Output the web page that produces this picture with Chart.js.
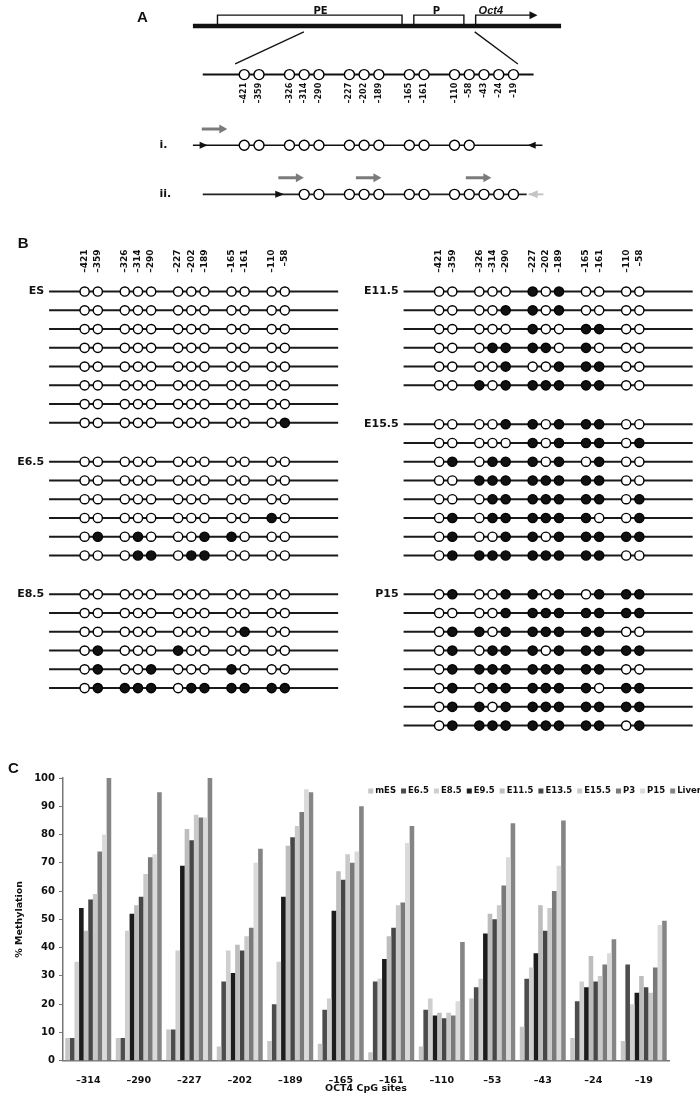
<!DOCTYPE html>
<html>
<head>
<meta charset="utf-8">
<title>Oct4 methylation</title>
<script src="https://cdn.jsdelivr.net/npm/chart.js@4.4.1/dist/chart.umd.min.js"></script>
<style>
html,body{margin:0;padding:0;background:#fff}
#fig{position:relative;width:700px;height:1099px;overflow:hidden;background:#fff}
#fig canvas{position:absolute;left:0}
</style>
</head>
<body>
<div id="fig">
<canvas id="panelA" width="700" height="225" style="top:0"></canvas>
<canvas id="panelB" width="700" height="520" style="top:225px"></canvas>
<canvas id="panelC" width="700" height="354" style="top:745px"></canvas>
</div>
<script>
// ---- panel A: Oct4 upstream region ----
const cpgSites=[-421,-359,-326,-314,-290,-227,-202,-189,-165,-161,-110,-58,-43,-24,-19]
const cpgCluster=[0,0,1,1,1,2,2,2,3,3,4,4,4,4,4]
const ampliconI=[-421,-359,-326,-314,-290,-227,-202,-189,-165,-161,-110,-58]
const ampliconII=[-314,-290,-227,-202,-189,-165,-161,-110,-58,-43,-24,-19]

// ---- panel B: bisulfite clones (1 = methylated CpG) ----
const cloneSites=[-421,-359,-326,-314,-290,-227,-202,-189,-165,-161,-110,-58]
const cloneCluster=[0,0,1,1,1,2,2,2,3,3,4,4]
const clonesES=["000000000000","000000000000","000000000000","000000000000","000000000000","000000000000","000000000000","000000000001"]
const clonesE65=["000000000000","000000000000","000000000000","000000000010","010100011000","000110110000"]
const clonesE85=["000000000000","000000000000","000000000100","010001000000","010010001000","011110111111"]
const clonesE115=["000001010000","000011010000","000001001100","000111101000","000010011100","001011111100"]
const clonesE155=["000011011100","000001011101","010111010100","001111111100","000111111101","010111111001","010011011111","011111111100"]
const clonesP15=["010011010111","000011111111","011011111100","010111011111","011111111100","010111111011","011011111111","011111111101"]

// ---- panel C: % methylation at each CpG ----
const cpgLabels=["–314","–290","–227","–202","–189","–165","–161","–110","–53","–43","–24","–19"]
const stages=["mES","E6.5","E8.5","E9.5","E11.5","E13.5","E15.5","P3","P15","Liver"]
const valsMES=[8,8,11,5,7,6,3,5,22,12,8,7]
const valsE65=[8,8,11,28,20,18,28,18,26,29,21,34]
const valsE85=[35,46,39,39,35,22,29,22,29,33,28,20]
const valsE95=[54,52,69,31,58,53,36,16,45,38,26,24]
const valsE115=[46,55,82,41,76,67,44,17,52,55,37,30]
const valsE135=[57,58,78,39,79,64,47,15,50,46,28,26]
const valsE155=[59,66,87,44,83,73,55,17,55,54,30,24]
const valsP3=[74,72,86,47,88,70,56,16,62,60,34,33]
const valsP15=[80,73,86,70,96,74,77,21,72,69,38,48]
const valsLiver=[100,95,100,75,95,90,83,42,84,85,43,49.5]
const stageColors=["#c6c6c6","#4d4d4d","#cfcfcf","#1c1c1c","#bdbdbd","#474747","#c9c9c9","#7a7a7a","#dadada","#858585"]

Chart.defaults.font.family="DejaVu Sans"

const bold=(s)=>"bold "+s+"px 'DejaVu Sans'"
const boldArial=(s)=>"bold "+s+"px 'Liberation Sans'"

function seg(ctx,x1,y1,x2,y2,w,c){
ctx.beginPath()
ctx.moveTo(x1,y1)
ctx.lineTo(x2,y2)
ctx.lineWidth=w
ctx.strokeStyle=c
ctx.stroke()
}

function poly(ctx,pts,w,c){
ctx.beginPath()
pts.forEach((p,i)=>i?ctx.lineTo(p[0],p[1]):ctx.moveTo(p[0],p[1]))
ctx.lineWidth=w
ctx.strokeStyle=c
ctx.stroke()
}

// arrow head, tip at x,y; dir 1 = points right
function head(ctx,x,y,dir,len,half,c){
ctx.beginPath()
ctx.moveTo(x,y)
ctx.lineTo(x-dir*len,y-half)
ctx.lineTo(x-dir*len,y+half)
ctx.closePath()
ctx.fillStyle=c
ctx.fill()
}

function vtext(ctx,t,x,y){
ctx.save()
ctx.translate(x,y)
ctx.rotate(-Math.PI/2)
ctx.fillText(t,0,0)
ctx.restore()
}

const pxScales=(w,h)=>({
x:{type:"linear",min:0,max:w,display:false},
y:{type:"linear",min:0,max:h,reverse:true,display:false}
})

// ================= panel A =================
const A={slot0:242.3,slotW:15,gap:1.07,geneY:20.7,boxTop:9.3,cpgY:72.3,iY:147.3,iiY:199.3,primerIY:130,primerIIY:181.7,labelTop:81}
const aX=i=>A.slot0+A.slotW*(i+A.gap*cpgCluster[i])

const aCircles=[]
cpgSites.forEach((s,i)=>aCircles.push({x:aX(i),y:A.cpgY}))
ampliconI.forEach(s=>aCircles.push({x:aX(cpgSites.indexOf(s)),y:A.iY}))
ampliconII.forEach(s=>aCircles.push({x:aX(cpgSites.indexOf(s)),y:A.iiY}))

const panelAPlugin={
id:"panelADraw",
beforeDatasetsDraw(chart){
const {ctx,scales:{x,y}}=chart
const X=v=>x.getPixelForValue(v), Y=v=>y.getPixelForValue(v)
const k="#111"
ctx.save()
// gene line with PE, P and Oct4
seg(ctx,X(190),Y(A.geneY),X(565),Y(A.geneY),4.5,k)
poly(ctx,[[X(215),Y(A.geneY)],[X(215),Y(A.boxTop)],[X(403),Y(A.boxTop)],[X(403),Y(A.geneY)]],1.4,k)
poly(ctx,[[X(415),Y(A.geneY)],[X(415),Y(A.boxTop)],[X(466),Y(A.boxTop)],[X(466),Y(A.geneY)]],1.4,k)
poly(ctx,[[X(478),Y(A.geneY)],[X(478),Y(A.boxTop)],[X(534),Y(A.boxTop)]],1.4,k)
head(ctx,X(541),Y(A.boxTop),1,8,4,k)
// zoom lines
seg(ctx,X(303),Y(27),X(233),Y(61),1.3,k)
seg(ctx,X(477),Y(27),X(521),Y(61),1.3,k)
// CpG line
seg(ctx,X(200),Y(A.cpgY),X(537),Y(A.cpgY),2,k)
// amplicon i
seg(ctx,X(190),Y(A.iY),X(546),Y(A.iY),1.6,k)
head(ctx,X(205),Y(A.iY),1,8,3.5,k)
head(ctx,X(531),Y(A.iY),-1,8,3.5,k)
seg(ctx,X(199),Y(A.primerIY),X(218),Y(A.primerIY),3,"#7b7b7b")
head(ctx,X(225),Y(A.primerIY),1,8,4.5,"#7b7b7b")
// amplicon ii
seg(ctx,X(200),Y(A.iiY),X(530),Y(A.iiY),1.6,"#222")
head(ctx,X(283),Y(A.iiY),1,9,3.5,k)
seg(ctx,X(532),Y(A.iiY),X(547),Y(A.iiY),2,"#c4c4c4")
head(ctx,X(532),Y(A.iiY),-1,9,4,"#c4c4c4")
;[277,356,468].forEach(s=>{
seg(ctx,X(s),Y(A.primerIIY),X(s+19),Y(A.primerIIY),3,"#7b7b7b")
head(ctx,X(s+26),Y(A.primerIIY),1,8,4.5,"#7b7b7b")
})
ctx.restore()
},
afterDatasetsDraw(chart){
const {ctx,scales:{x,y}}=chart
const X=v=>x.getPixelForValue(v), Y=v=>y.getPixelForValue(v)
ctx.save()
ctx.fillStyle="#111"
ctx.textBaseline="alphabetic"
ctx.textAlign="left"
ctx.font=boldArial(15)
ctx.fillText("A",X(133),Y(17))
ctx.textAlign="center"
ctx.font=bold(10)
ctx.fillText("PE",X(320),Y(8.5))
ctx.fillText("P",X(438),Y(8.5))
ctx.textAlign="left"
ctx.font="italic bold 11px 'Liberation Sans'"
ctx.fillText("Oct4",X(481),Y(8))
// site labels
ctx.font=bold(8)
ctx.textAlign="right"
ctx.textBaseline="middle"
cpgSites.forEach((s,i)=>vtext(ctx,"–"+Math.abs(s),X(aX(i)),Y(A.labelTop)))
ctx.textAlign="left"
ctx.font=bold(11)
ctx.fillText("i.",X(156),Y(A.iY))
ctx.fillText("ii.",X(156),Y(A.iiY))
ctx.restore()
}
}

new Chart(document.getElementById("panelA"),{
type:"scatter",
data:{datasets:[{
data:aCircles,
pointRadius:5,
pointBackgroundColor:"#fff",
pointBorderColor:"#000",
pointBorderWidth:1.4
}]},
options:{
responsive:false,
animation:false,
events:[],
layout:{padding:0},
plugins:{legend:{display:false},tooltip:{enabled:false}},
scales:pxScales(700,225)
},
plugins:[panelAPlugin]
})

// ================= panel B =================
const B={top:225,cols:[80,440.7],slotW:13.4,gap:1.05,rowY0:287,rowPitch:19.2,blockGap:1.07,lineFrom:-2.7,lineTo:19.25,labelTop:244}
const cloneSets=[
{label:"ES",col:0,clones:clonesES},
{label:"E6.5",col:0,clones:clonesE65},
{label:"E8.5",col:0,clones:clonesE85},
{label:"E11.5",col:1,clones:clonesE115},
{label:"E15.5",col:1,clones:clonesE155},
{label:"P15",col:1,clones:clonesP15}
]
const bX=(col,i)=>B.cols[col]+B.slotW*(i+B.gap*cloneCluster[i])

const bRows=[]
const used=[0,0], blk=[0,0]
cloneSets.forEach(set=>{
set.clones.forEach((pat,r)=>{
const k=used[set.col]+blk[set.col]*B.blockGap
bRows.push({col:set.col,y:B.rowY0-B.top+B.rowPitch*k,pat:pat,label:r===0?set.label:null})
used[set.col]++
})
blk[set.col]++
})

const bPoints=[], bFill=[]
bRows.forEach(row=>{
row.pat.split("").forEach((c,i)=>{
bPoints.push({x:bX(row.col,i),y:row.y})
bFill.push(c==="1"?"#111":"#fff")
})
})

const bDatasets=[{
type:"scatter",
order:0,
data:bPoints,
pointRadius:4.6,
pointBackgroundColor:bFill,
pointBorderColor:"#000",
pointBorderWidth:1.4
}]
bRows.forEach(row=>{
bDatasets.push({
type:"scatter",
order:1,
showLine:true,
data:[{x:B.cols[row.col]+B.slotW*B.lineFrom,y:row.y},{x:B.cols[row.col]+B.slotW*B.lineTo,y:row.y}],
pointRadius:0,
borderColor:"#1a1a1a",
borderWidth:2
})
})

const panelBPlugin={
id:"panelBDraw",
afterDatasetsDraw(chart){
const {ctx,scales:{x,y}}=chart
const X=v=>x.getPixelForValue(v), Y=v=>y.getPixelForValue(v)
ctx.save()
ctx.fillStyle="#111"
ctx.font=boldArial(15)
ctx.textAlign="left"
ctx.textBaseline="alphabetic"
ctx.fillText("B",X(12),Y(17))
ctx.font=bold(9)
ctx.textAlign="right"
ctx.textBaseline="middle"
B.cols.forEach((cx,col)=>{
cloneSites.forEach((s,i)=>vtext(ctx,"–"+Math.abs(s),X(bX(col,i)),Y(B.labelTop-B.top)))
})
ctx.font=bold(11)
bRows.forEach(row=>{
if(row.label) ctx.fillText(row.label,X(B.cols[row.col]+B.slotW*B.lineFrom-5),Y(row.y))
})
ctx.restore()
}
}

new Chart(document.getElementById("panelB"),{
type:"scatter",
data:{datasets:bDatasets},
options:{
responsive:false,
animation:false,
events:[],
layout:{padding:0},
plugins:{legend:{display:false},tooltip:{enabled:false}},
scales:pxScales(700,520)
},
plugins:[panelBPlugin]
})

// ================= panel C =================
const stageValues=[valsMES,valsE65,valsE85,valsE95,valsE115,valsE135,valsE155,valsP3,valsP15,valsLiver]
const C={legendRight:701,legendY:46,box:5,boxGap:2,itemGap:5}

// "C" letter and a one-row legend over the top right of the plot
const panelCPlugin={
id:"panelCExtras",
afterDraw(chart){
const ctx=chart.ctx
ctx.save()
ctx.fillStyle="#111"
ctx.font=boldArial(15)
ctx.textAlign="left"
ctx.textBaseline="alphabetic"
ctx.fillText("C",8,28)
ctx.font=bold(8.5)
ctx.textBaseline="middle"
const items=chart.data.datasets.map(d=>({text:d.label,color:d.backgroundColor,w:ctx.measureText(d.label).width}))
let total=items.reduce((s,it)=>s+C.box+C.boxGap+it.w,0)+C.itemGap*(items.length-1)
let xp=C.legendRight-total
items.forEach(it=>{
ctx.fillStyle=it.color
ctx.fillRect(xp,C.legendY-C.box/2,C.box,C.box)
ctx.fillStyle="#111"
ctx.fillText(it.text,xp+C.box+C.boxGap,C.legendY)
xp+=C.box+C.boxGap+it.w+C.itemGap
})
ctx.restore()
}
}

new Chart(document.getElementById("panelC"),{
type:"bar",
data:{
labels:cpgLabels,
datasets:stages.map((s,k)=>({
label:s,
data:stageValues[k],
backgroundColor:stageColors[k],
borderWidth:0,
categoryPercentage:0.91,
barPercentage:1
}))
},
options:{
responsive:false,
animation:false,
events:[],
layout:{padding:{top:33,right:31,left:0,bottom:0}},
plugins:{
tooltip:{enabled:false},
legend:{display:false}
},
scales:{
x:{
grid:{display:false},
border:{display:true,color:"#777",width:1.5},
ticks:{color:"#111",padding:6,font:{weight:"bold",size:9.5}},
title:{display:true,text:"OCT4 CpG sites",color:"#111",padding:{top:0,bottom:4.3},font:{weight:"bold",size:9.5}},
afterFit(s){s.height=38.3}
},
y:{
min:0,
max:100,
grid:{drawOnChartArea:false,drawTicks:true,tickLength:4,color:"#777"},
border:{display:true,color:"#777",width:1.5},
ticks:{stepSize:10,color:"#111",padding:4,font:{weight:"bold",size:10}},
title:{display:true,text:"% Methylation",color:"#111",padding:{top:14.3,bottom:0},font:{weight:"bold",size:9.5}},
afterFit(s){s.width=63}
}
}
},
plugins:[panelCPlugin]
})
</script>
</body>
</html>
